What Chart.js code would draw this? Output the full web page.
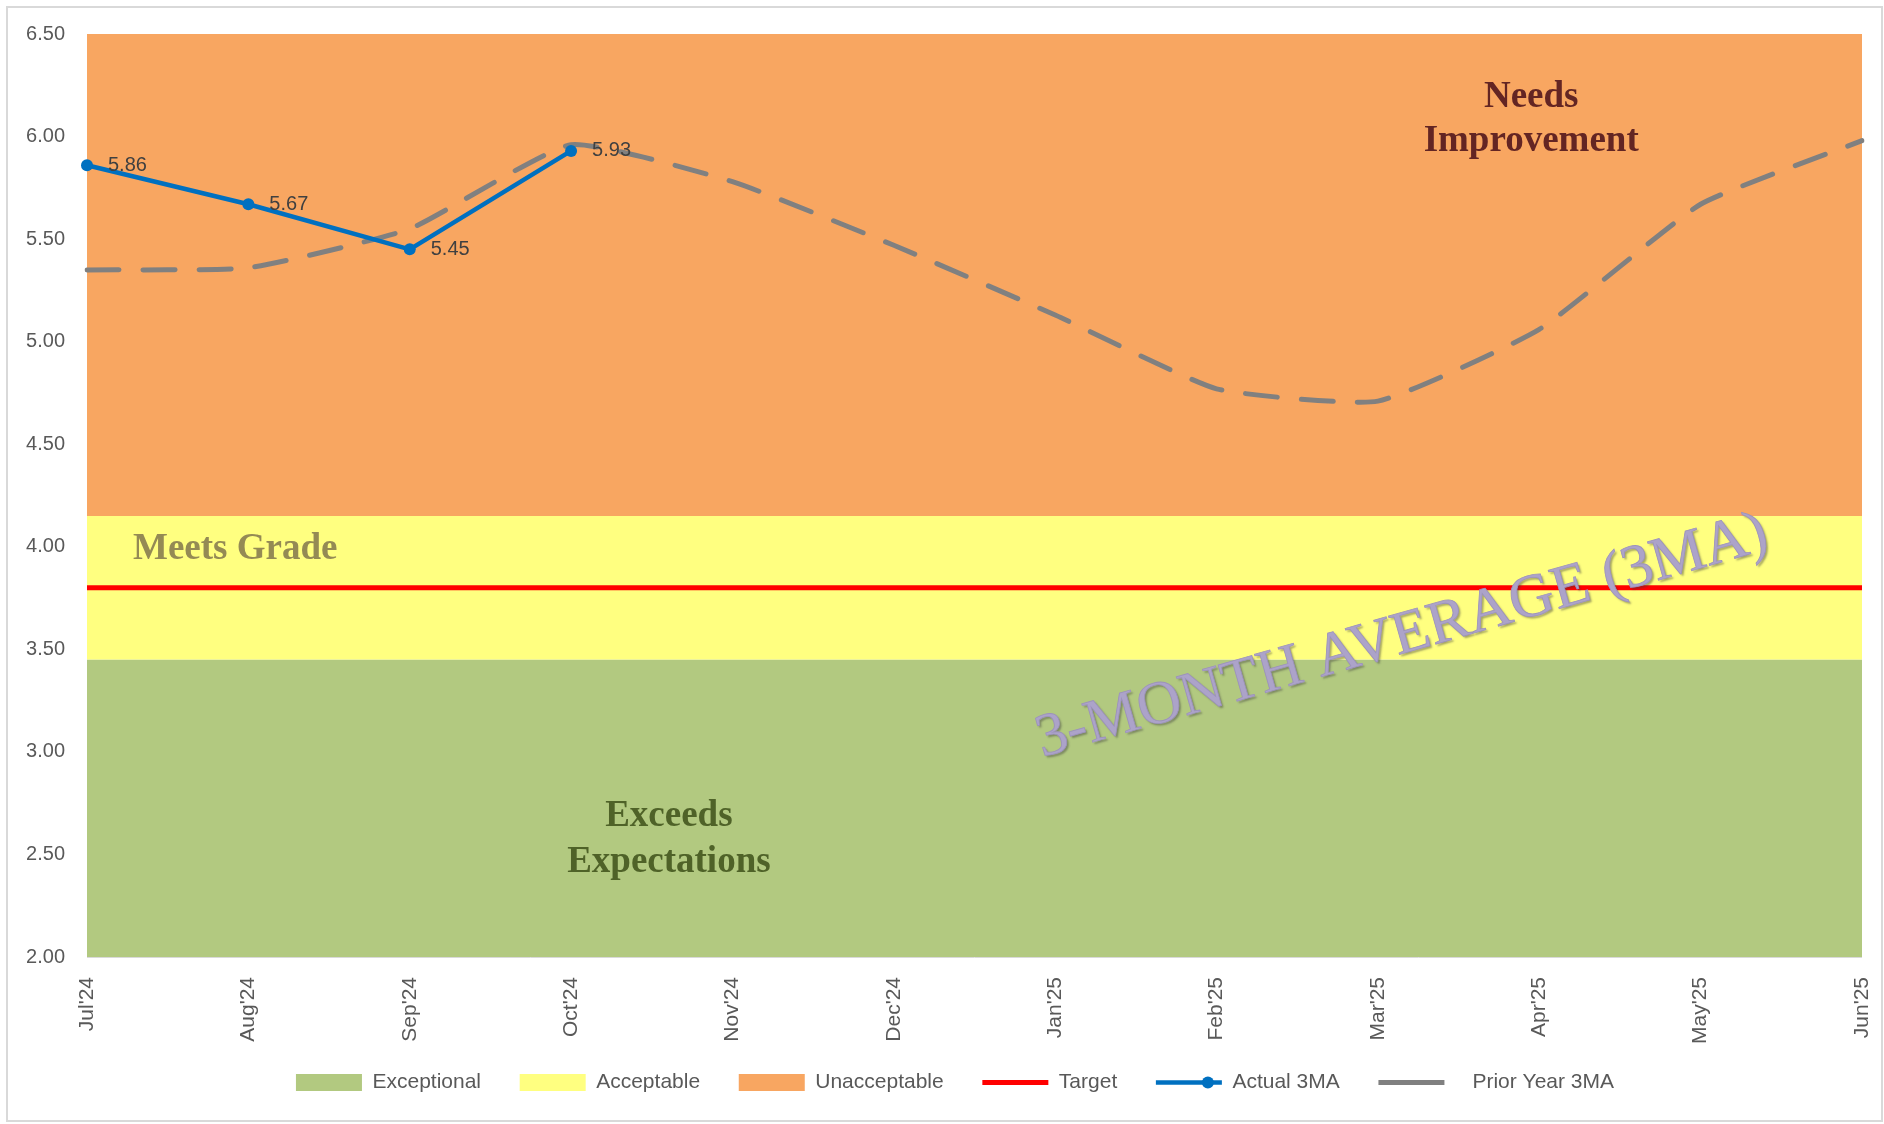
<!DOCTYPE html>
<html>
<head>
<meta charset="utf-8">
<script src="https://cdn.jsdelivr.net/npm/chart.js@4.4.1/dist/chart.umd.min.js"></script>
<style>
  html, body { margin: 0; padding: 0; background: #fff; }
</style>
</head>
<body>
<canvas id="chart" width="1884" height="1124"></canvas>
<script>
// ---------- Data ----------
const months = ["Jul'24", "Aug'24", "Sep'24", "Oct'24", "Nov'24", "Dec'24",
                "Jan'25", "Feb'25", "Mar'25", "Apr'25", "May'25", "Jun'25"];

const exceptional  = [3.45, 3.45, 3.45, 3.45, 3.45, 3.45, 3.45, 3.45, 3.45, 3.45, 3.45, 3.45];
const acceptable   = [4.15, 4.15, 4.15, 4.15, 4.15, 4.15, 4.15, 4.15, 4.15, 4.15, 4.15, 4.15];
const unacceptable = [6.50, 6.50, 6.50, 6.50, 6.50, 6.50, 6.50, 6.50, 6.50, 6.50, 6.50, 6.50];
const target       = [3.80, 3.80, 3.80, 3.80, 3.80, 3.80, 3.80, 3.80, 3.80, 3.80, 3.80, 3.80];
const actual3MA    = [5.86, 5.67, 5.45, 5.93, null, null, null, null, null, null, null, null];
const priorYear3MA = [5.35, 5.36, 5.55, 5.96, 5.78, 5.47, 5.13, 4.77, 4.71, 5.06, 5.67, 5.98];

const yTicks = [2.0, 2.5, 3.0, 3.5, 4.0, 4.5, 5.0, 5.5, 6.0, 6.5];

// text notes, placed through the scales (x = category index, y = value)
const notes = [
  { lines: ["Needs", "Improvement"], x: 8.95, y: [6.19, 5.977], color: "#632523", align: "center" },
  { lines: ["Meets Grade"], x: 0.285, y: [3.988], color: "#948A54", align: "left" },
  { lines: ["Exceeds", "Expectations"], x: 3.606, y: [2.683, 2.463], color: "#4F6228", align: "center" }
];
const watermark = { text: "3-MONTH AVERAGE (3MA)", x: 8.15, y: 3.56, angle: -16 };

const SANS = "'Liberation Sans', Arial, sans-serif";
const SERIF = "'Liberation Serif', 'Times New Roman', serif";
const legendShift = 19; // legend sits a bit right of the canvas centre

// ---------- Plugins ----------
const framePlugin = {
  id: "frame",
  beforeDraw(chart) {
    const ctx = chart.ctx;
    ctx.save();
    ctx.fillStyle = "#fff";
    ctx.fillRect(0, 0, chart.width, chart.height);
    ctx.strokeStyle = "#d9d9d9";
    ctx.lineWidth = 2;
    ctx.strokeRect(7, 7, chart.width - 9, chart.height - 10);
    ctx.restore();
  },
  afterLayout(chart) {
    chart.legend.left += legendShift;
    chart.legend.right += legendShift;
  }
};

const notesPlugin = {
  id: "notes",
  afterDatasetsDraw(chart) {
    const ctx = chart.ctx;
    const xs = chart.scales.x, ys = chart.scales.y;
    ctx.save();
    ctx.textBaseline = "middle";
    ctx.font = "bold 37px " + SERIF;
    notes.forEach(n => {
      ctx.fillStyle = n.color;
      ctx.textAlign = n.align;
      n.lines.forEach((t, i) => {
        ctx.fillText(t, xs.getPixelForValue(n.x), ys.getPixelForValue(n.y[i]));
      });
    });

    // diagonal watermark
    ctx.translate(xs.getPixelForValue(watermark.x), ys.getPixelForValue(watermark.y));
    ctx.rotate(watermark.angle * Math.PI / 180);
    ctx.font = "61px " + SERIF;
    ctx.textAlign = "center";
    ctx.shadowColor = "rgba(60,60,60,0.45)";
    ctx.shadowOffsetX = 2;
    ctx.shadowOffsetY = 2;
    ctx.shadowBlur = 2;
    ctx.fillStyle = "#ACA3C9";
    ctx.fillText(watermark.text, 0, 0);
    ctx.shadowColor = "transparent";
    ctx.strokeStyle = "#9C92BC";
    ctx.lineWidth = 0.8;
    ctx.strokeText(watermark.text, 0, 0);
    ctx.restore();

    // value labels for actual 3MA
    const meta = chart.getDatasetMeta(4);
    ctx.save();
    ctx.font = "20px " + SANS;
    ctx.fillStyle = "#404040";
    ctx.textAlign = "left";
    ctx.textBaseline = "middle";
    meta.data.forEach((pt, i) => {
      if (actual3MA[i] == null) return;
      ctx.fillText(actual3MA[i].toFixed(2), pt.x + 21, pt.y);
    });
    ctx.restore();
  },
  afterDraw(chart) {
    // marker on the Actual 3MA legend line
    const box = chart.legend.legendHitBoxes[4];
    if (!box) return;
    const ctx = chart.ctx;
    ctx.save();
    ctx.fillStyle = "#0070C0";
    ctx.beginPath();
    ctx.arc(box.left + legendShift + 33, box.top + box.height / 2, 6, 0, Math.PI * 2);
    ctx.fill();
    ctx.restore();
  }
};

// ---------- Chart ----------
const lineItem = (text, color, width) => ({
  text, fillStyle: color, strokeStyle: color, lineWidth: width,
  pointStyle: "line", lineDash: [], hidden: false, fontColor: "#595959"
});
const boxItem = (text, color) => ({
  text, fillStyle: color, strokeStyle: color, lineWidth: 0,
  pointStyle: "rect", lineDash: [], hidden: false, fontColor: "#595959"
});

new Chart(document.getElementById("chart"), {
  type: "line",
  data: {
    labels: months,
    datasets: [
      { label: "Exceptional", data: exceptional, backgroundColor: "#B2C980", borderWidth: 0,
        pointRadius: 0, fill: "start", order: 12 },
      { label: "Acceptable", data: acceptable, backgroundColor: "#FFFF80", borderWidth: 0,
        pointRadius: 0, fill: "-1", order: 11 },
      { label: "Unacceptable", data: unacceptable, backgroundColor: "#F8A661", borderWidth: 0,
        pointRadius: 0, fill: "-1", order: 10 },
      { label: "Target", data: target, borderColor: "#FF0000", borderWidth: 5,
        pointRadius: 0, fill: false, order: 3 },
      { label: "Actual 3MA", data: actual3MA, borderColor: "#0070C0", backgroundColor: "#0070C0",
        borderWidth: 4.5, pointRadius: 6, pointBorderWidth: 0, fill: false, order: 1 },
      { label: "Prior Year 3MA", data: priorYear3MA, borderColor: "#808080", borderWidth: 5,
        borderDash: [32, 24], borderCapStyle: "round", tension: 0.15, pointRadius: 0,
        fill: false, order: 2 }
    ]
  },
  options: {
    responsive: false,
    animation: false,
    layout: { padding: { left: 10, right: 22, top: 25, bottom: 21 } },
    plugins: {
      tooltip: { enabled: false },
      legend: {
        position: "bottom",
        labels: {
          usePointStyle: true,
          pointStyleWidth: 66,
          boxHeight: 17,
          padding: 27,
          color: "#595959",
          font: { family: SANS, size: 21 },
          generateLabels: () => [
            boxItem("Exceptional  ", "#B2C980"),
            boxItem("Acceptable  ", "#FFFF80"),
            boxItem("Unacceptable  ", "#F8A661"),
            lineItem("Target  ", "#FF0000", 5),
            lineItem("Actual 3MA  ", "#0070C0", 4.5),
            lineItem("   Prior Year 3MA", "#808080", 5)
          ]
        }
      }
    },
    scales: {
      x: {
        offset: false,
        grid: { display: false },
        border: { display: false },
        ticks: { minRotation: 90, maxRotation: 90, padding: 12, color: "#595959",
                 font: { family: SANS, size: 21 } },
        afterFit: s => { s.height = 88; s.paddingRight = 0; }
      },
      y: {
        min: 2, max: 6.5,
        afterBuildTicks: s => { s.ticks = yTicks.map(v => ({ value: v })); },
        grid: { color: "#d9d9d9", drawTicks: false },
        border: { display: false },
        ticks: { padding: 22, color: "#595959", font: { family: SANS, size: 20 },
                 callback: v => Number(v).toFixed(2) },
        afterFit: s => { s.width = 77; }
      }
    }
  },
  plugins: [framePlugin, notesPlugin]
});
</script>
</body>
</html>
